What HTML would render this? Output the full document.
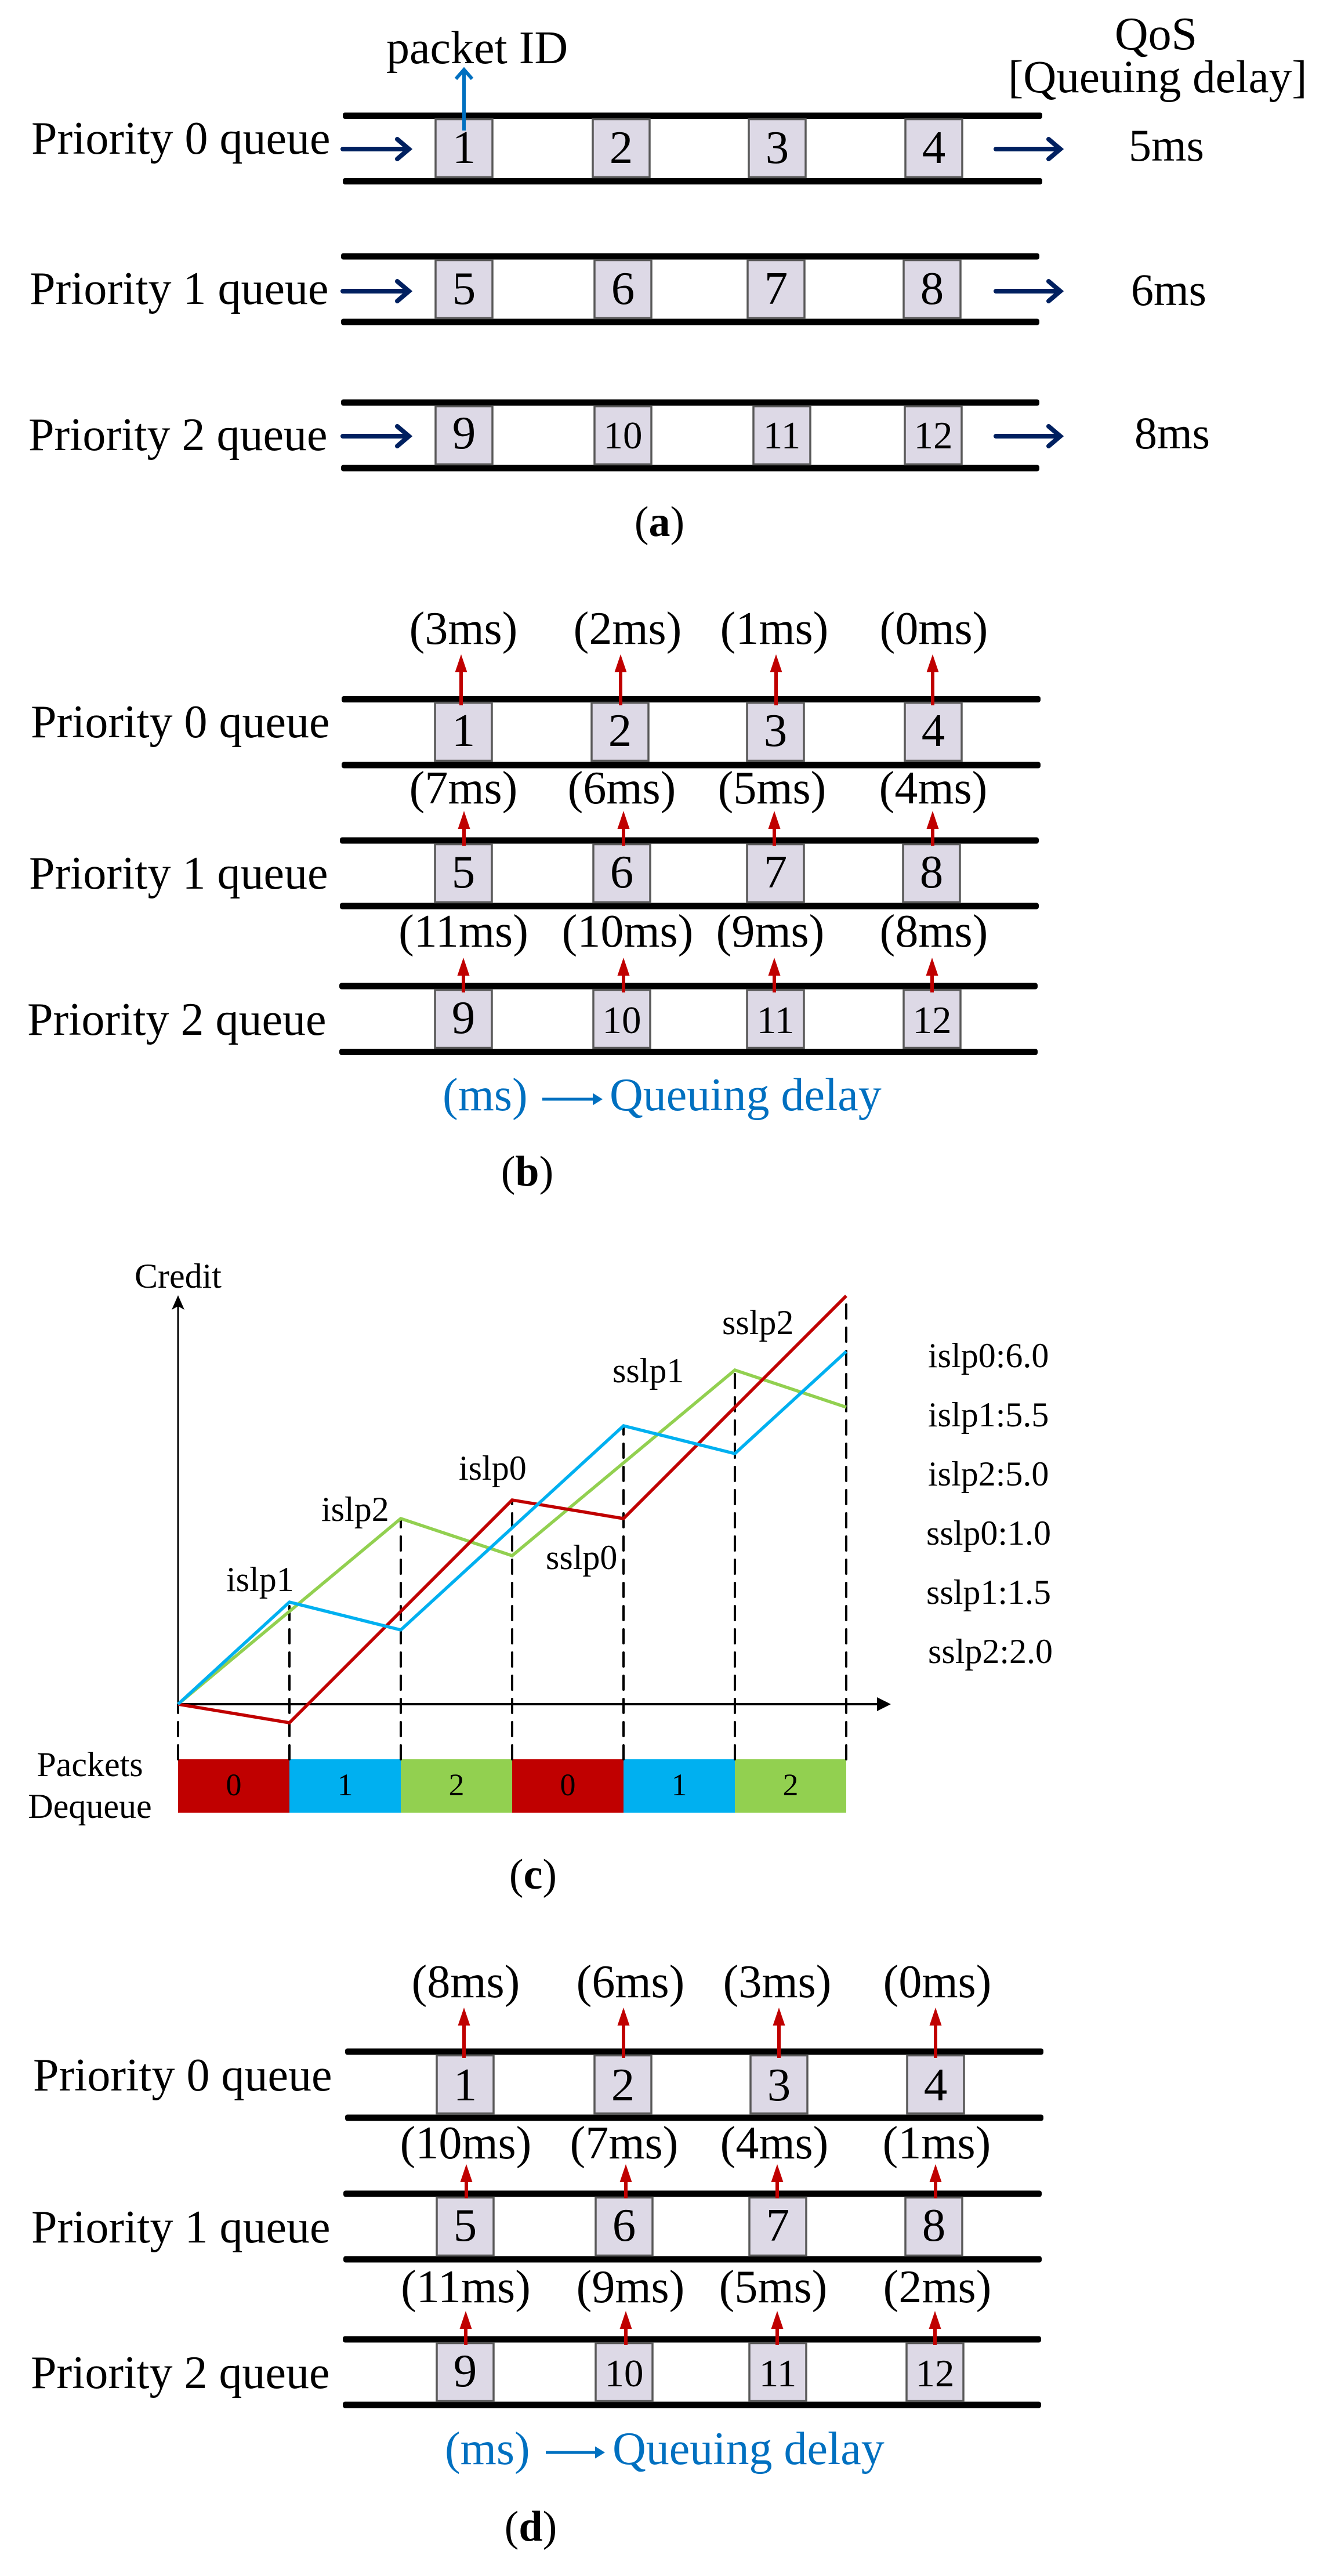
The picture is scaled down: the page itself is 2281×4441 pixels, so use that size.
<!DOCTYPE html>
<html lang="en">
<head>
<meta charset="utf-8">
<title>Queue scheduling diagrams</title>
<style>
html,body{margin:0;padding:0;background:#fff;}
svg{display:block;}
text{font-family:"Liberation Serif",serif;fill:#000;}
</style>
</head>
<body>
<svg id="fig" xmlns="http://www.w3.org/2000/svg" width="2281" height="4441" viewBox="0 0 2281 4441"></svg>
<script>
// ---------- Panel (c) chart data ----------
const dequeueOrder = [0, 1, 2, 0, 1, 2];
const creditPriority0 = [0, -1, 5, 11, 10, 16, 22];
const creditPriority1 = [0, 5.5, 4, 9.5, 15, 13.5, 19];
const creditPriority2 = [0, 5, 10, 8, 13, 18, 16];
const slopeLegend = ['islp0:6.0', 'islp1:5.5', 'islp2:5.0', 'sslp0:1.0', 'sslp1:1.5', 'sslp2:2.0'];

// ---------- Queue panel data ----------
const priorityLabels = ['Priority 0 queue', 'Priority 1 queue', 'Priority 2 queue'];
const packetIds = [[1,2,3,4],[5,6,7,8],[9,10,11,12]];
const qosDelays = ['5ms', '6ms', '8ms'];
const delaysB = [['(3ms)','(2ms)','(1ms)','(0ms)'],['(7ms)','(6ms)','(5ms)','(4ms)'],['(11ms)','(10ms)','(9ms)','(8ms)']];
const delaysD = [['(8ms)','(6ms)','(3ms)','(0ms)'],['(10ms)','(7ms)','(4ms)','(1ms)'],['(11ms)','(9ms)','(5ms)','(2ms)']];

const NS = 'http://www.w3.org/2000/svg';
const fig = document.getElementById('fig');
function mk(tag, attrs) {
  const el = document.createElementNS(NS, tag);
  for (const k in attrs) el.setAttribute(k, attrs[k]);
  fig.appendChild(el);
  return el;
}
function txt(str, x, y, size, anchor, fill) {
  const el = mk('text', {x: x, y: y, 'font-size': size, 'text-anchor': anchor || 'start'});
  if (fill) el.style.fill = fill;
  el.textContent = str;
  return el;
}

function queueRow(row, labelStr, ids) {
  // rails
  const top = mk('rect', {x: row.x0, y: row.top - 5.5, width: row.x1 - row.x0, height: 11, rx: 4, fill: '#000'});
  
  
  const bot = mk('rect', {x: row.x0, y: row.bot - 5.5, width: row.x1 - row.x0, height: 11, rx: 4, fill: '#000'});
  
  
  // label
  const lab = txt(labelStr, row.labelX, row.labelY, 80);
  
  
  // packets
  ids.forEach(function (id, i) {
    const cx = row.cx[i];
    const box = mk('rect', {x: cx - 49, y: row.boxTop + 1.5, width: 98, height: row.boxBot - row.boxTop - 3, fill: '#DDD9E6', stroke: '#595959', 'stroke-width': 3.5});
    
    
    const t = txt(String(id), cx, row.digitY, id > 9 ? 67 : 81, 'middle');
    
    
  });
}
function redArrow(x, tip, base) {
  const s = mk('line', {x1: x, y1: tip + 25, x2: x, y2: base, stroke: '#C00000', 'stroke-width': 6});
  
  
  const h = mk('polygon', {points: x + ',' + tip + ' ' + (x - 10.5) + ',' + (tip + 31) + ' ' + (x + 10.5) + ',' + (tip + 31), fill: '#C00000'});
  
  
}
function navyArrow(x0, x1, y) {
  const p = mk('path', {d: 'M' + x0 + ' ' + y + 'H' + (x1 - 3) + 'M' + (x1 - 23) + ' ' + (y - 17) + 'L' + (x1 - 3) + ' ' + y + 'L' + (x1 - 23) + ' ' + (y + 17), fill: 'none', stroke: '#002060', 'stroke-width': 8, 'stroke-linecap': 'round', 'stroke-linejoin': 'miter'});
  
  
}
function caption(letter, cx, y) {
  const c = mk('text', {x: cx, y: y, 'font-size': 74, 'text-anchor': 'middle'});
  
  
  c.appendChild(document.createTextNode('('));
  const b = document.createElementNS(NS, 'tspan');
  b.setAttribute('font-weight', 'bold');
  b.textContent = letter;
  c.appendChild(b);
  c.appendChild(document.createTextNode(')'));
}
function msLegend(msX, qX, ax0, ax1, axY, base) {
  const a = txt('(ms)', msX, base, 80, 'start', '#0070C0');
  
  
  const l = mk('line', {x1: ax0, y1: axY, x2: ax1 - 14, y2: axY, stroke: '#0070C0', 'stroke-width': 5});
  
  
  const h = mk('polygon', {points: ax1 + ',' + axY + ' ' + (ax1 - 17) + ',' + (axY - 10.5) + ' ' + (ax1 - 17) + ',' + (axY + 10.5), fill: '#0070C0'});
  
  
  const q = txt('Queuing delay', qX, base, 80, 'start', '#0070C0');
  
  
}

// ---------- Panel (a) ----------
const rowsA = [
  {x0: 591, x1: 1797, top: 199.5, bot: 312.5, boxTop: 204, boxBot: 307, digitY: 281, labelX: 54, labelY: 265, cx: [800, 1071, 1340, 1610], ay: 257, qx: 1946, qy: 277},
  {x0: 588, x1: 1792, top: 442, bot: 555, boxTop: 447, boxBot: 550, digitY: 524, labelX: 51, labelY: 524, cx: [800, 1074, 1338, 1607], ay: 502, qx: 1950, qy: 526},
  {x0: 588, x1: 1792, top: 694, bot: 807, boxTop: 699, boxBot: 802, digitY: 773, labelX: 49, labelY: 776, cx: [800, 1074, 1348, 1609], ay: 752, qx: 1956, qy: 773}
];
rowsA.forEach(function (r, i) {
  queueRow(r, priorityLabels[i], packetIds[i]);
  navyArrow(591, 708, r.ay);
  navyArrow(1717, 1831, r.ay);
  const q = txt(qosDelays[i], r.qx, r.qy, 78);
  
  
});
const pid = txt('packet ID', 666, 109, 80);


const idArrow = mk('path', {d: 'M800 225V120M786 136L800 120L814 136', fill: 'none', stroke: '#0070C0', 'stroke-width': 6});


const qos1 = txt('QoS', 1993, 85, 80, 'middle');


const qos2 = txt('[Queuing delay]', 1738, 159, 79);


caption('a', 1137, 924);

// ---------- Panel (b) ----------
const rowsB = [
  {x0: 589, x1: 1794, top: 1205.5, bot: 1319, boxTop: 1210, boxBot: 1313, digitY: 1286, labelX: 53, labelY: 1271, cx: [799, 1069, 1337, 1609], lx: [799, 1082, 1335, 1610], ly: 1110, ax: [795, 1070, 1338, 1608], tip: 1128, base: 1216},
  {x0: 586, x1: 1791, top: 1449, bot: 1562, boxTop: 1454, boxBot: 1557, digitY: 1530, labelX: 50, labelY: 1532, cx: [799, 1072, 1337, 1606], lx: [799, 1072, 1331, 1609], ly: 1385, ax: [800, 1075, 1335, 1608], tip: 1398, base: 1458},
  {x0: 585, x1: 1789, top: 1700, bot: 1813.5, boxTop: 1705, boxBot: 1808, digitY: 1781, labelX: 47, labelY: 1784, cx: [799, 1072, 1337, 1607], lx: [799, 1082, 1328, 1610], ly: 1632, ax: [799, 1075, 1335, 1607], tip: 1651, base: 1711}
];
rowsB.forEach(function (r, i) {
  queueRow(r, priorityLabels[i], packetIds[i]);
  delaysB[i].forEach(function (d, j) {
    const t = txt(d, r.lx[j], r.ly, 80, 'middle');
    
    
    redArrow(r.ax[j], r.tip, r.base);
  });
});
msLegend(763, 1051, 935, 1039, 1895, 1914);
caption('b', 909, 2044);

// ---------- Panel (c) chart ----------
const plotLeft = 307, stepW = 192, plotZero = 2938, unitH = 32;
function xScale(i) { return plotLeft + i * stepW; }
function yScale(v) { return plotZero - v * unitH; }
const barTop = 3033, barBottom = 3125;
const barColors = ['#C00000', '#00B0F0', '#92D050'];

dequeueOrder.forEach(function (p, i) {
  const b = mk('rect', {x: xScale(i), y: barTop, width: stepW, height: barBottom - barTop, fill: barColors[p]});
  
  
  const t = txt(String(p), xScale(i) + stepW / 2, 3095, 54, 'middle');
  
  
});
for (let i = 0; i <= dequeueOrder.length; i++) {
  const peak = Math.max(creditPriority0[i], creditPriority1[i], creditPriority2[i]);
  const dash = mk('line', {x1: xScale(i), y1: barTop, x2: xScale(i), y2: yScale(peak), stroke: '#000', 'stroke-width': 4, 'stroke-dasharray': '24 16', 'stroke-linecap': 'round'});
  
  
}
const yAxis = mk('line', {x1: plotLeft, y1: plotZero, x2: plotLeft, y2: 2250, stroke: '#000', 'stroke-width': 3});


const yHead = mk('polygon', {points: plotLeft + ',2233 ' + (plotLeft - 11) + ',2258 ' + plotLeft + ',2252 ' + (plotLeft + 11) + ',2258', fill: '#000'});


const xAxis = mk('line', {x1: plotLeft, y1: plotZero, x2: 1515, y2: plotZero, stroke: '#000', 'stroke-width': 4});


const xHead = mk('polygon', {points: '1536,' + plotZero + ' 1512,' + (plotZero - 12) + ' 1512,' + (plotZero + 12), fill: '#000'});



function linePoints(series) {
  return series.map(function (v, i) { return xScale(i) + ',' + yScale(v); }).join(' ');
}
const lineGreen = mk('polyline', {points: linePoints(creditPriority2), fill: 'none', stroke: '#92D050', 'stroke-width': 5.5, 'stroke-linejoin': 'miter'});


const lineRed = mk('polyline', {points: linePoints(creditPriority0), fill: 'none', stroke: '#C00000', 'stroke-width': 5.5, 'stroke-linejoin': 'miter'});


const lineBlue = mk('polyline', {points: linePoints(creditPriority1), fill: 'none', stroke: '#00B0F0', 'stroke-width': 5.5, 'stroke-linejoin': 'miter'});



const yTitle = txt('Credit', 307, 2220, 60, 'middle');


const rowT1 = txt('Packets', 155, 3062, 60, 'middle');


const rowT2 = txt('Dequeue', 155, 3134, 60, 'middle');



const sl1 = txt('islp1', 390, 2743, 60);


const sl2 = txt('islp2', 554, 2622, 60);


const sl3 = txt('islp0', 791, 2551, 60);


const sl4 = txt('sslp0', 941, 2705, 60);


const sl5 = txt('sslp1', 1056, 2383, 60);


const sl6 = txt('sslp2', 1245, 2300, 60);



slopeLegend.forEach(function (s, i) {
  const t = txt(s, i < 3 || i === 5 ? 1600 : 1597, 2357 + i * 102, 60);
  
  
});
caption('c', 919, 3256);

// ---------- Panel (d) ----------
const rowsD = [
  {x0: 595, x1: 1799, top: 3537, bot: 3651, boxTop: 3542, boxBot: 3645, digitY: 3621, labelX: 57, labelY: 3604, cx: [802, 1074, 1343, 1613], lx: [803, 1087, 1340, 1616], ly: 3443, ax: [800, 1075, 1343, 1613], tip: 3461, base: 3548},
  {x0: 592, x1: 1796, top: 3782, bot: 3895, boxTop: 3787, boxBot: 3890, digitY: 3863, labelX: 54, labelY: 3866, cx: [802, 1076, 1341, 1610], lx: [803, 1076, 1335, 1615], ly: 3721, ax: [804, 1079, 1340, 1613], tip: 3731, base: 3790},
  {x0: 591, x1: 1795, top: 4033, bot: 4146, boxTop: 4038, boxBot: 4141, digitY: 4114, labelX: 53, labelY: 4117, cx: [802, 1076, 1341, 1612], lx: [803, 1087, 1333, 1616], ly: 3969, ax: [803, 1079, 1340, 1612], tip: 3984, base: 4043}
];
rowsD.forEach(function (r, i) {
  queueRow(r, priorityLabels[i], packetIds[i]);
  delaysD[i].forEach(function (d, j) {
    const t = txt(d, r.lx[j], r.ly, 80, 'middle');
    
    
    redArrow(r.ax[j], r.tip, r.base);
  });
});
msLegend(767, 1056, 941, 1043, 4228, 4248);
caption('d', 915, 4380);
</script>
</body>
</html>
